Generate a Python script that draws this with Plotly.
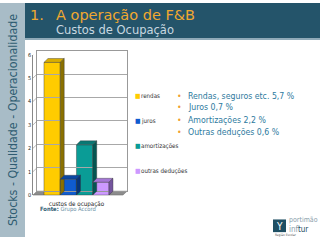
import plotly.graph_objects as go

# ---- data ----
category = "custos de ocupação"
series = ["rendas", "juros", "amortizações", "outras deduções"]
values = [5.67, 0.68, 2.15, 0.55]
front_colors = ["#FFCC00", "#0F5CCF", "#0A9C96", "#CC99FF"]
top_colors = ["#D9AE00", "#0A47A3", "#077874", "#A577D6"]
side_colors = ["#8A7000", "#06347A", "#045652", "#74559E"]
y_ticks = [0, 1, 2, 3, 4, 5, 6]
bullets = ["Rendas, seguros etc. 5,7 %", "Juros 0,7 %", "Amortizações 2,2 %", "Outras deduções 0,6 %"]
title = "A operação de F&B"
subtitle = "Custos de Ocupação"
side_text = "Stocks - Qualidade - Operacionalidade"

W, H = 320, 240
FONT = "DejaVu Sans Condensed, DejaVu Sans"
FONT_W = "DejaVu Sans"


def px(x):
    return x / W


def py(y):
    return 1 - y / H


fig = go.Figure()

group = 65 / 90
w = group / len(series)
dx = 4 / 90
dy = 4 / 24

shapes = []
shapes.append(dict(type="rect", xref="paper", yref="paper", x0=0, x1=px(25), y0=0, y1=1,
                   fillcolor="#A8BCC7", line_width=0, layer="below"))
shapes.append(dict(type="rect", xref="paper", yref="paper", x0=px(25), x1=1, y0=py(36), y1=1,
                   fillcolor="#24546A", line_width=0, layer="below"))
shapes.append(dict(type="rect", xref="paper", yref="paper", x0=px(25), x1=1, y0=py(38), y1=py(36),
                   fillcolor="#8FAAB8", line_width=0, layer="below"))
shapes.append(dict(type="path", xref="paper", yref="paper",
                   path=f"M{px(33)},{py(197)} L{px(123)},{py(197)} L{px(127)},{py(193)} L{px(37)},{py(193)} Z",
                   fillcolor="#8C8C8C", line=dict(color="#666666", width=0.5), layer="below"))
for t in y_ticks[1:]:
    shapes.append(dict(type="line", xref="paper", yref="y", x0=px(33), x1=px(37), y0=t, y1=t + dy,
                       line=dict(color="#888888", width=0.6)))

for i, (name, v) in enumerate(zip(series, values)):
    off = -group / 2 + i * w
    fig.add_trace(go.Bar(x=[0], y=[v], name=name, width=[w], offset=[off],
                         marker=dict(color=front_colors[i], line=dict(color="#333333", width=0.4)),
                         showlegend=False, xaxis="x", yaxis="y"))
    x0, x1 = off, off + w
    shapes.append(dict(type="path", xref="x", yref="y",
                       path=f"M{x0},{v} L{x1},{v} L{x1+dx},{v+dy} L{x0+dx},{v+dy} Z",
                       fillcolor=top_colors[i], line=dict(color="#333333", width=0.4)))
    shapes.append(dict(type="path", xref="x", yref="y",
                       path=f"M{x1},0 L{x1},{v} L{x1+dx},{v+dy} L{x1+dx},{dy} Z",
                       fillcolor=side_colors[i], line=dict(color="#333333", width=0.4)))

fig.add_trace(go.Scatter(x=[0], y=[0], xaxis="x2", yaxis="y2", mode="markers",
                         marker=dict(opacity=0), showlegend=False, hoverinfo="skip"))


def ann(text, x, y, size, color, family=FONT, xanchor="left", **kw):
    return dict(text=text, x=px(x), y=py(y), xref="paper", yref="paper", xanchor=xanchor,
                yanchor="middle", showarrow=False, font=dict(family=family, size=size, color=color), **kw)


annotations = []
annotations.append(ann(side_text, 13, 120, 12.3, "#2F5C72", xanchor="center", textangle=-90))
annotations.append(ann("1.", 28, 12, 14.5, "#F0A830", family=FONT_W))
annotations.append(ann(title, 54, 12, 14.5, "#F0A830", family=FONT_W))
annotations.append(ann(subtitle, 54, 28, 11.5, "#C8D8E0", family=FONT_W))
leg_y = [95, 121, 147, 172]
for i, name in enumerate(series):
    annotations.append(ann("■", 133, leg_y[i], 6.5, front_colors[i]))
    annotations.append(ann(name, 139, leg_y[i], 6.2, "#333333"))
bul_y = [95, 107, 120, 132]
for i, b in enumerate(bullets):
    annotations.append(ann("•", 175, bul_y[i], 8.7, "#F0A030"))
    annotations.append(ann(b, 186, bul_y[i], 8.7, "#2E7A9E"))
annotations.append(ann("<b>Fonte:</b> <span style='color:#6A8FA5'>Grupo Accord</span>", 38, 212, 5.8, "#2F5C72"))
shapes.append(dict(type="rect", xref="paper", yref="paper", x0=px(273), x1=px(286), y0=py(235), y1=py(222),
                   fillcolor="#1F4F63", line_width=0))
annotations.append(ann("Y", 279.5, 229, 10, "white", xanchor="center"))
annotations.append(ann("portimão", 287, 223, 7, "#8AA0AC"))
annotations.append(ann("inf<span style='color:#1F4F63'>tur</span>", 287, 232, 8, "#8AA0AC"))
annotations.append(ann("Região Escolar", 273, 238, 3.2, "#555555"))

fig.update_layout(
    width=W, height=H, margin=dict(l=0, r=0, t=0, b=0),
    paper_bgcolor="white", plot_bgcolor="rgba(0,0,0,0)",
    barmode="overlay", shapes=shapes, annotations=annotations,
    xaxis=dict(domain=[px(33), px(123)], range=[-0.483, 0.517], tickvals=[0], ticktext=[category],
               showgrid=False, zeroline=False, showline=False, ticks="", ticklabelstandoff=4,
               tickfont=dict(family=FONT, size=6.2, color="#222222"), anchor="y"),
    yaxis=dict(domain=[py(197), py(53)], range=[0, 6], tickvals=y_ticks,
               showgrid=False, zeroline=False, showline=True, linecolor="#888888", linewidth=0.6,
               ticks="", tickfont=dict(family=FONT, size=5.5, color="#222222"), anchor="x"),
    xaxis2=dict(domain=[px(37), px(127)], range=[-0.5, 0.5], showticklabels=False, showgrid=False,
                zeroline=False, showline=True, mirror=True, linecolor="#999999", linewidth=0.6,
                ticks="", anchor="y2"),
    yaxis2=dict(domain=[py(193), py(49)], range=[0, 6], tickvals=y_ticks, showticklabels=False,
                showgrid=True, gridcolor="#A8A8A8", gridwidth=0.6, zeroline=False, showline=True,
                mirror=True, linecolor="#999999", linewidth=0.6, ticks="", anchor="x2"),
)

fig.write_html("out.html")
